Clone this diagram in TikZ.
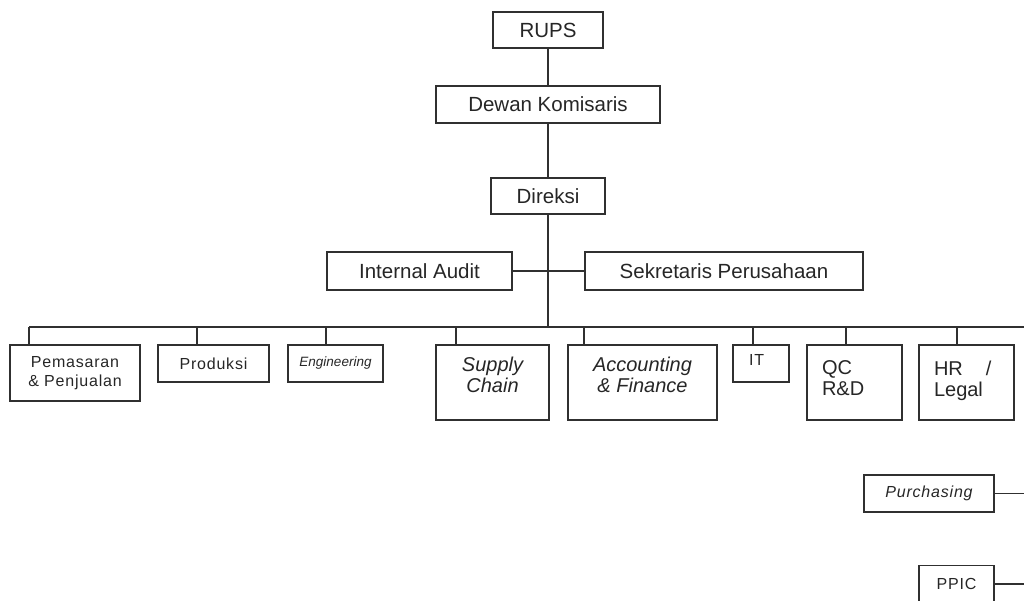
\documentclass[tikz,border=0pt]{standalone}
\usepackage{fontspec}
\setmainfont{Liberation Sans}
\newfontfamily\smallsans[LetterSpace=5]{Liberation Sans}
\newcommand{\tbx}[4]{\parbox[c][#2][t]{#1}{\vspace*{#3}#4}}
\newcommand{\bigf}{\fontsize{20}{21}\selectfont}
\newcommand{\topf}{\fontsize{20.5}{22}\selectfont}
\newcommand{\smf}{\smallsans\fontsize{16}{19.5}\selectfont}
\newcommand{\engf}{\fontsize{13.5}{16}\selectfont\itshape}
\definecolor{ink}{HTML}{262626}
\definecolor{lin}{HTML}{303030}
\begin{document}
\begin{tikzpicture}[x=1pt,y=-1pt,
  box/.style={draw=lin, line width=1.5pt, rectangle, inner sep=0pt, outer sep=0pt, text=ink, align=center},
  conn/.style={draw=lin, line width=1.5pt}]
\useasboundingbox (0,0) rectangle (1024,601);
\clip (0,0) rectangle (1024,601);
% top chain
\node[box, minimum width=110, minimum height=36, font=\topf] (rups) at (548,30) {RUPS};
\node[box, minimum width=224, minimum height=37, font=\topf] (dk) at (548,104.5) {Dewan Komisaris};
\node[box, minimum width=114, minimum height=36, font=\topf] (dir) at (548,196) {Direksi};
\node[box, minimum width=185, minimum height=38, font=\topf] (ia) at (419.5,271) {Internal Audit};
\node[box, minimum width=278, minimum height=38, font=\topf] (sp) at (724,271) {Sekretaris Perusahaan};
% divisions
\node[box, minimum width=130, minimum height=56, font=\smf] (pem) at (75,373) {Pemasaran\\\& Penjualan};
\node[box, minimum width=111, minimum height=37, font=\smf] (prod) at (213.5,363.5) {Produksi};
\node[box, minimum width=95, minimum height=37, font=\engf] (eng) at (335.5,363.5) {Engineering};
\node[box] (sc) at (492.5,382.5) {\tbx{113pt}{75pt}{12pt}{\centering\bigf\itshape Supply\\Chain}};
\node[box] (af) at (642.5,382.5) {\tbx{149pt}{75pt}{12pt}{\centering\bigf\itshape Accounting\\\& Finance}};
\node[box] (it) at (761,363.5) {\tbx{56pt}{37pt}{9pt}{\raggedright\leftskip=16pt\smf IT}};
\node[box] (qc) at (854.5,382.5) {\tbx{95pt}{75pt}{16pt}{\raggedright\leftskip=15pt\bigf QC\\R\&D}};
\node[box] (hr) at (966.5,382.5) {\tbx{95pt}{75pt}{16pt}{\raggedright\leftskip=15pt\bigf HR\hspace{23pt}/\\Legal}};
\node[box, minimum width=130, minimum height=37, font=\smf\itshape] (pur) at (929,493.5) {Purchasing};
\node[box, minimum width=75, minimum height=37, font=\smf] (ppic) at (956.5,584) {PPIC};
% connectors
\draw[conn] (rups.south) -- (dk.north);
\draw[conn] (dk.south) -- (dir.north);
\draw[conn] (ia.east) -- (sp.west);
\coordinate (busL) at (29,327);
\coordinate (busR) at (1024,327);
\draw[conn] (dir.south) -- (dir.south |- busL);
\draw[conn] (busL) -- (busR);
\coordinate (s1) at ([xshift=-46pt]pem.north);
\coordinate (s2) at ([xshift=-16.5pt]prod.north);
\coordinate (s3) at ([xshift=-9.5pt]eng.north);
\coordinate (s4) at ([xshift=-36.5pt]sc.north);
\coordinate (s5) at ([xshift=-58.5pt]af.north);
\coordinate (s6) at ([xshift=-8pt]it.north);
\coordinate (s7) at ([xshift=-8.5pt]qc.north);
\coordinate (s8) at ([xshift=-9.5pt]hr.north);
\foreach \s in {s1,s2,s3,s4,s5,s6,s7,s8}
  \draw[conn] (\s) -- (\s |- busL);
\coordinate (pr) at (1024,494);
\draw[conn] (pur.east) -- (pur.east -| pr);
\draw[conn] (ppic.east) -- (ppic.east -| pr);
\end{tikzpicture}
\end{document}
